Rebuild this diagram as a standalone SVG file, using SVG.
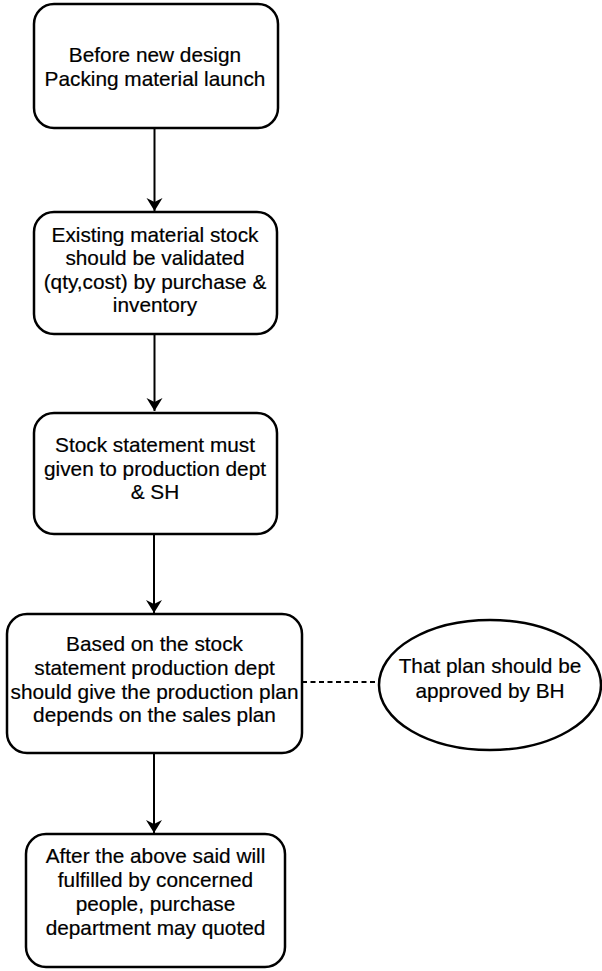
<svg xmlns="http://www.w3.org/2000/svg" width="602" height="971" viewBox="0 0 602 971">
<defs>
<marker id="arr" markerWidth="16" markerHeight="18" refX="14" refY="9" orient="auto" markerUnits="userSpaceOnUse" viewBox="0 0 16 18">
<path d="M14 9 L1 1 L5 9 L1 17 Z" fill="#000"/>
</marker>
<style>
.box{fill:#fff;stroke:#000;stroke-width:2.5}
.t{font-family:"Liberation Sans",Arial,sans-serif;font-size:20.8px;fill:#000;text-anchor:middle;stroke:#000;stroke-width:0.2}
.c{stroke:#000;stroke-width:2;fill:none}
.d{stroke:#000;stroke-width:2;fill:none;stroke-dasharray:5 3.5}
</style>
</defs>
<rect width="602" height="971" fill="#fff"/>
<g id="connectors">
<path class="c" d="M154.5 128 V211" marker-end="url(#arr)"/>
<path class="c" d="M154.5 334 V411" marker-end="url(#arr)"/>
<path class="c" d="M154 534 V613" marker-end="url(#arr)"/>
<path class="c" d="M154 753 V833" marker-end="url(#arr)"/>
<path class="d" d="M302 682 H379"/>
</g>
<g id="n1">
<rect class="box" x="34" y="4" width="244" height="124" rx="20"/>
<text class="t" x="155" y="62">Before new design</text>
<text class="t" x="155" y="85.5">Packing material launch</text>
</g>
<g id="n2">
<rect class="box" x="34" y="212" width="243" height="122" rx="20"/>
<text class="t" x="155" y="241.5">Existing material stock</text>
<text class="t" x="155" y="265">should be validated</text>
<text class="t" x="155" y="288.5">(qty,cost) by purchase &amp;</text>
<text class="t" x="155" y="312">inventory</text>
</g>
<g id="n3">
<rect class="box" x="34" y="413" width="243" height="121" rx="20"/>
<text class="t" x="155" y="452">Stock statement must</text>
<text class="t" x="155" y="475.5">given to production dept</text>
<text class="t" x="155" y="499">&amp; SH</text>
</g>
<g id="n4">
<rect class="box" x="7" y="614" width="295" height="139" rx="20"/>
<text class="t" x="154.5" y="651">Based on the stock</text>
<text class="t" x="154.5" y="674.5">statement production dept</text>
<text class="t" x="154.5" y="698.5">should give the production plan</text>
<text class="t" x="154.5" y="722">depends on the sales plan</text>
</g>
<g id="n5">
<ellipse class="box" cx="490" cy="685" rx="111" ry="65"/>
<text class="t" x="490" y="673">That plan should be</text>
<text class="t" x="490" y="697.5">approved by BH</text>
</g>
<g id="n6">
<rect class="box" x="26" y="834" width="259" height="133" rx="20"/>
<text class="t" x="155.5" y="863">After the above said will</text>
<text class="t" x="155.5" y="887">fulfilled by concerned</text>
<text class="t" x="155.5" y="910.5">people, purchase</text>
<text class="t" x="155.5" y="934.5">department may quoted</text>
</g>
</svg>
